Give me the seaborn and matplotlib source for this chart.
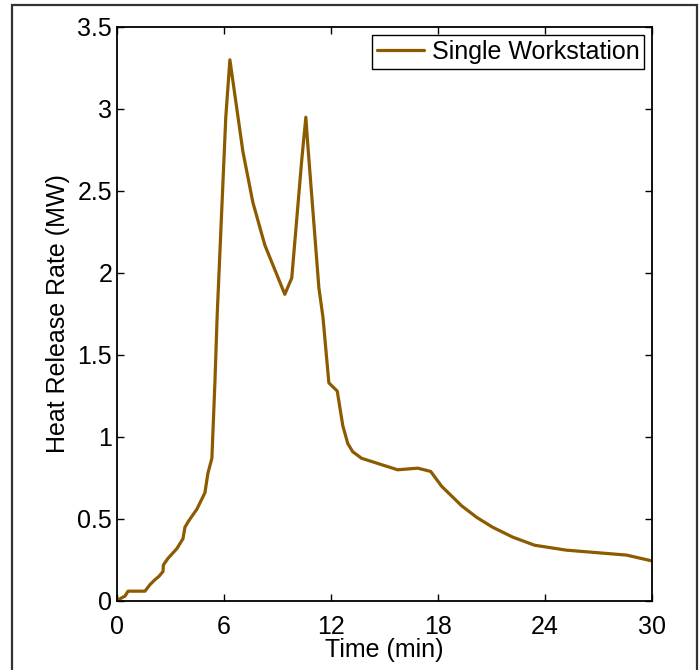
import numpy as np
import pandas as pd
import matplotlib
matplotlib.use("Agg")
import matplotlib.pyplot as plt
import seaborn as sns
from matplotlib.patches import Rectangle

time_min = [0.1, 0.45, 0.62, 1.57, 1.85, 2.13, 2.35, 2.58, 2.6, 2.86, 3.36, 3.7, 3.81,
            4.03, 4.48, 4.93, 5.1, 5.32, 5.49, 5.62, 6.1, 6.33, 7.06, 7.62, 8.29,
            9.41, 9.8, 10.36, 10.59, 10.7, 11.32, 11.55, 11.88, 12.35, 12.66, 12.94,
            13.22, 13.72, 15.74, 16.86, 17.59, 18.2, 19.33, 20.17, 21.06, 22.18,
            23.42, 25.2, 28.57, 29.97]
hrr_mw = [0.01, 0.03, 0.06, 0.06, 0.10, 0.13, 0.15, 0.18, 0.22, 0.26, 0.32, 0.38, 0.45,
          0.49, 0.56, 0.66, 0.78, 0.87, 1.33, 1.75, 2.95, 3.30, 2.74, 2.43, 2.17,
          1.87, 1.97, 2.69, 2.95, 2.78, 1.91, 1.73, 1.33, 1.28, 1.07, 0.96,
          0.91, 0.87, 0.80, 0.81, 0.79, 0.70, 0.58, 0.51, 0.45, 0.39,
          0.34, 0.31, 0.28, 0.245]
series_name = "Single Workstation"
x_ticks = [0, 6, 12, 18, 24, 30]
y_ticks = [0, 0.5, 1, 1.5, 2, 2.5, 3, 3.5]
y_ticklabels = ["0", "0.5", "1", "1.5", "2", "2.5", "3", "3.5"]

sns.set_style("ticks")
plt.rcParams['font.family'] = ['Liberation Sans', 'DejaVu Sans']
plt.rcParams['text.color'] = 'black'
plt.rcParams['axes.labelcolor'] = 'black'

df = pd.DataFrame({"Time (min)": time_min, "HRR": hrr_mw, "series": series_name})

fig = plt.figure(figsize=(6.99, 6.70), dpi=100)
ax = fig.add_axes([117/699, 1 - 601/670, (652 - 117)/699, (601 - 27)/670])

sns.lineplot(data=df, x="Time (min)", y="HRR", hue="series", palette=["#8c5b00"],
             estimator=None, sort=False, linewidth=2.3, ax=ax)

ax.set_xlim(0, 30)
ax.set_ylim(0, 3.5)
ax.set_xticks(x_ticks)
ax.set_xticklabels([str(v) for v in x_ticks])
ax.set_yticks(y_ticks)
ax.set_yticklabels(y_ticklabels)
ax.tick_params(direction="in", length=5, width=1, top=True, right=True,
               labelsize=18, colors="black")
ax.tick_params(axis="x", pad=10)
ax.tick_params(axis="y", pad=3.5)
for s in ax.spines.values():
    s.set_visible(True)
    s.set_linewidth(1.3)
    s.set_color("black")
ax.set_xlabel("Time (min)", fontsize=18, labelpad=-1, color="black")
ax.set_ylabel("Heat Release Rate (MW)", fontsize=18, labelpad=5, color="black")

leg = ax.legend(loc="upper right", fontsize=18, fancybox=False, frameon=True,
                edgecolor="black", framealpha=1, borderaxespad=0.3,
                handlelength=1.9, handletextpad=0.3, borderpad=0.2)
leg.get_frame().set_linewidth(1.0)
for line in leg.get_lines():
    line.set_linewidth(2.3)
for t in leg.get_texts():
    t.set_color("black")

fig.patches.append(Rectangle((12/699, -0.1), (697 - 12)/699, 1.1 - 5/670,
                             transform=fig.transFigure, fill=False,
                             edgecolor="#333333", linewidth=1.6))

fig.savefig("out.png", dpi=100)
